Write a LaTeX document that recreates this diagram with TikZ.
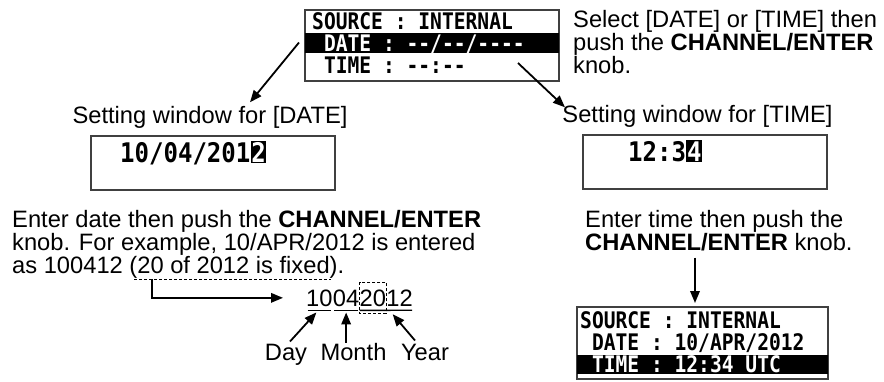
\documentclass[tikz,border=0pt]{standalone}
\usepackage{fontspec}
\setmainfont{Liberation Sans}
\newfontfamily\lcdfont[FakeStretch=0.86,Ligatures=TeXOff]{DejaVu Sans Mono}
\newfontfamily\lcdbigfont[FakeStretch=0.89,Ligatures=TeXOff]{DejaVu Sans Mono}
\usetikzlibrary{positioning,arrows.meta,calc}

\begin{document}
\begin{tikzpicture}[
    x=1pt, y=-1pt,
    txt/.style={font=\fontsize{23.7}{23}\selectfont, align=left,
                anchor=base west, inner sep=0},
    lbl/.style={font=\fontsize{23.7}{23}\selectfont, anchor=base},
    num/.style={lbl, inner sep=0, anchor=base west},
    win/.style={draw=black!75, line width=1.5pt, anchor=north west, outer sep=0},
    lcd/.style={font=\lcdfont\bfseries\fontsize{22.8}{24}\selectfont,
                inner sep=0, anchor=base west},
    lcdbig/.style={font=\lcdbigfont\bfseries\fontsize{27}{29}\selectfont,
                inner sep=0, anchor=base west},
    inv/.style={fill=black, text=white, inner xsep=0.6pt, inner ysep=1.2pt},
    arr/.style={-{Triangle[length=12pt,width=9.5pt]}, line width=1.8pt},
    uline/.style={line width=1.4pt},
    fixline/.style={dashed, line width=0.8pt, dash pattern=on 3pt off 2pt},
  ]
  \useasboundingbox (0,0) rectangle (884,381);

  % Menu with DATE selected
  \node[win, minimum width=254pt, minimum height=71pt] (menu) at (305,10) {};
  \fill ([yshift=-23pt]menu.north west) rectangle ([yshift=-43pt]menu.north east);
  \node[lcd] (msrc) at (312,29) {SOURCE : INTERNAL};
  \node[lcd, text=white] (mdate) at (323.8,51) {DATE : --/--/----};
  \node[lcd] (mtime) at (323.8,73) {TIME : --:--};
  \node[txt] (select) at (573,73)
        {Select [DATE] or [TIME] then\\push the \textbf{CHANNEL/ENTER}\\knob.};

  % Setting windows
  \node[lbl] (setdate) at (210,123) {Setting window for [DATE]};
  \node[lbl] (settime) at (697.5,122) {Setting window for [TIME]};
  \node[win, minimum width=244pt, minimum height=54pt] (datewin) at (91,136) {};
  \node[win, minimum width=244pt, minimum height=54pt] (timewin) at (583,135) {};
  \node[lcdbig] (datetxt) at (120,162) {10/04/201};
  \node[lcdbig, inv] (datecur) at (datetxt.base east) {2};
  \node[lcdbig] (timetxt) at (628,161) {12:3};
  \node[lcdbig, inv] (timecur) at (timetxt.base east) {4};

  \draw[arr] ([xshift=-6pt,yshift=3pt]menu.west) -- ([xshift=40pt]setdate.north);
  \draw[arr] ([xshift=-41pt,yshift=18pt]menu.south east)
          -- ([xshift=6pt,yshift=-6pt]settime.north west);

  % Entering the date
  \node[txt] (enterdate) at (12,273)
        {Enter date then push the \textbf{CHANNEL/ENTER}\\
         knob. For example, 10/APR/2012 is entered\\
         as 100412 (20 of 2012 is fixed).};
  \draw[fixline] (134,279) -- (331,279);
  \coordinate (fixed) at (152,279);

  \node[num] (dd) at (306,306) {10};
  \node[num] (mm) at (dd.base east) {04};
  \node[num] (yy1) at (mm.base east) {20};
  \node[num] (yy2) at (yy1.base east) {12};
  \foreach \n in {dd,mm}
    \draw[uline] ([xshift=1.5pt,yshift=-4pt]\n.south west)
              -- ([xshift=-1.5pt,yshift=-4pt]\n.south east);
  \draw[uline] ([yshift=-4pt]yy1.south west) -- ([xshift=-1pt,yshift=-4pt]yy2.south east);
  \draw[fixline] ([yshift=7pt]yy1.north west) rectangle ([yshift=-7pt]yy1.south east);
  \draw[arr] (fixed) |- ([xshift=-23pt]dd.west);

  \node[lbl, inner sep=0] (day) at (286,360) {Day};
  \node[lbl, inner sep=0] (month) at (353.5,360) {Month};
  \node[lbl, inner sep=0] (year) at (425,360) {Year};
  \draw[arr] ([xshift=4pt,yshift=2pt]day.north) -- ([xshift=-3pt,yshift=-6pt]dd.south);
  \draw[arr] (mm.south |- month.north) -- ([yshift=-6pt]mm.south);
  \draw[arr] ([xshift=-10pt,yshift=3pt]year.north) -- ([xshift=-7pt,yshift=-8pt]yy2.south);

  % Entering the time and result
  \node[txt] (entertime) at (585,250)
        {Enter time then push the\\\textbf{CHANNEL/ENTER} knob.};
  \node[win, minimum width=251pt, minimum height=72pt] (final) at (577,307) {};
  \fill ([yshift=-48pt]final.north west) rectangle ([yshift=-67pt]final.north east);
  \node[lcd] (fsrc) at (580,328) {SOURCE : INTERNAL};
  \node[lcd] (fdate) at (591.8,350) {DATE : 10/APR/2012};
  \node[lcd, text=white] (ftime) at (591.8,372) {TIME : 12:34 UTC};
  \draw[arr] ($(entertime.south -| final.north)+(-7.5,7)$) -- ($(final.north)+(-7.5,-4)$);
\end{tikzpicture}
\end{document}
